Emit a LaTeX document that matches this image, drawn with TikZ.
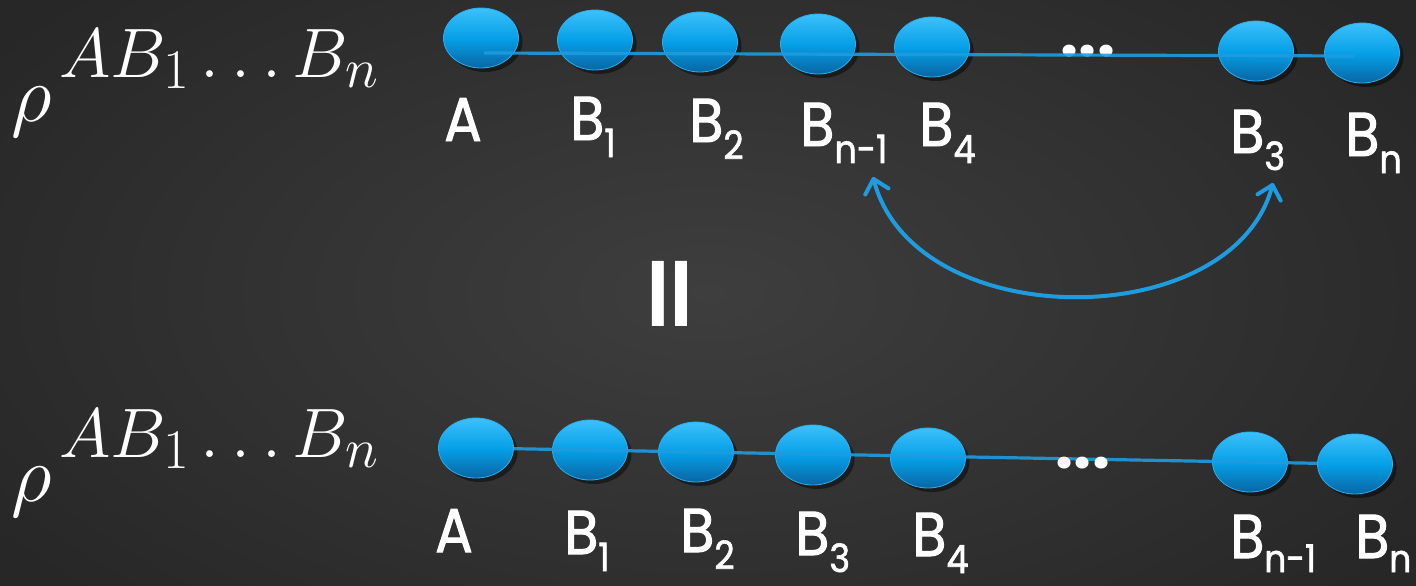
\RequirePackage{fix-cm}
\documentclass[tikz,border=0pt]{standalone}
\usepackage{fontspec}
\usetikzlibrary{shapes.geometric,shadows,arrows.meta}
\newfontfamily\labfamily[FakeStretch=0.9,FakeBold=1.6]{Poppins}
\newfontfamily\dotfamily{Poppins}
\newfontfamily\eqfamily{DejaVu Sans}
\DeclareMathSizes{80}{80}{66}{52}
\DeclareMathSizes{70}{70}{56}{44}
\definecolor{bginner}{HTML}{3E3E3E}
\definecolor{bgouter}{HTML}{272727}
\definecolor{qtop}{HTML}{3CC0FA}
\definecolor{qmid}{HTML}{06A0E8}
\definecolor{qbot}{HTML}{0866A4}
\definecolor{qedge}{HTML}{2AAEEE}
\definecolor{qline}{HTML}{1F9CE0}
\newcommand{\lsub}[1]{\raisebox{-17pt}{\fontsize{39}{41}\selectfont #1}}
\newcommand{\lsubb}[1]{\raisebox{-14pt}{\fontsize{38}{40}\selectfont #1}}
\newcommand{\rhoexpr}{\fontsize{80}{96}\selectfont$\rho$\kern8pt\raisebox{44.5pt}{\fontsize{70}{74}\selectfont$AB_1\ldots B_n$}}
\begin{document}
\begin{tikzpicture}[x=1pt,y=-1pt,
  qubit/.style={ellipse, minimum width=75pt, minimum height=60pt, inner sep=0pt,
    draw=qedge, line width=0.8pt, top color=qtop, bottom color=qbot, middle color=qmid,
    drop shadow={shadow xshift=4pt, shadow yshift=-4pt, opacity=0.45, fill=black}},
  chain/.style={draw=qline, line width=3.2pt, opacity=0.9},
  lbl/.style={text=white, font=\labfamily\fontsize{62}{66}\selectfont, anchor=base west, inner sep=0pt},
  dotsnode/.style={text=white, font=\dotfamily\bfseries\fontsize{64}{66}\selectfont, anchor=base, inner sep=0pt},
  rholbl/.style={text=white, anchor=base west, inner sep=0pt},
  eqsign/.style={text=white, font=\eqfamily\bfseries\fontsize{104}{108}\selectfont, rotate=90, inner sep=0pt},
  swaparrow/.style={draw=qline, line width=4pt, line cap=round,
    {Straight Barb[length=13pt,width=24pt,round]}-{Straight Barb[length=13pt,width=24pt,round]}}
]
\useasboundingbox (0,0) rectangle (1416,586);
\shade[inner color=bginner, outer color=bgouter] (-150,-150) rectangle (1566,736);

% left formulas
\node[rholbl] (rhoT) at (11,121.5) {\rhoexpr};
\node[rholbl] (rhoB) at (11,501.5) {\rhoexpr};

% ---------- top row ----------
\node[dotsnode] (tdots) at (1088,57) {...};
\node[qubit] (tA)  at (481,38) {};
\node[qubit] (tB1) at (595,40) {};
\node[qubit] (tB2) at (700,42) {};
\node[qubit] (tBm) at (818,44) {};
\node[qubit] (tB4) at (932,47) {};
\node[qubit] (tB3) at (1256,51) {};
\node[qubit] (tBn) at (1362,53) {};
\coordinate (tl0) at (484,53);
\coordinate (tl1) at (1355,56);
\draw[chain] (tl0) -- (tl1);

\node[lbl] (ltA)  at (444,141) {A};
\node[lbl] (ltB1) at (570,140) {B\lsub{1}};
\node[lbl] (ltB2) at (689,142) {B\lsub{2}};
\node[lbl] (ltBm) at (800,146) {B\lsub{n-1}};
\node[lbl] (ltB4) at (919,146) {B\lsub{4}};
\node[lbl] (ltB3) at (1230,153) {B\lsub{3}};
\node[lbl] (ltBn) at (1345,156) {B\lsub{n}};

% swap arrow
\coordinate (aL) at (873,177);
\coordinate (aR) at (1273,183);
\draw[swaparrow] (aL) .. controls (915,335) and (1232,335) .. (aR);

% equals sign
\node[eqsign] (eq) at (677,294) {=};

% ---------- bottom row ----------
\node[qubit] (bA)  at (476,448) {};
\node[qubit] (bB1) at (590,450) {};
\node[qubit] (bB2) at (696,452) {};
\node[qubit] (bB3) at (813,455) {};
\node[qubit] (bB4) at (928,458) {};
\node[qubit] (bBm) at (1250,462) {};
\node[qubit] (bBn) at (1355,464) {};
\draw[chain] (bA) -- (bBn);
\node[dotsnode] (bdots) at (1083,468) {...};

\node[lbl] (lbA)  at (435,552) {A};
\node[lbl] (lbB1) at (564,554) {B\lsub{1}};
\node[lbl] (lbB2) at (680,552) {B\lsub{2}};
\node[lbl] (lbB3) at (795,555) {B\lsub{3}};
\node[lbl] (lbB4) at (912,556) {B\lsub{4}};
\node[lbl] (lbBm) at (1230,558) {B\lsubb{n-1}};
\node[lbl] (lbBn) at (1355,558) {B\lsubb{n}};
\end{tikzpicture}
\end{document}
